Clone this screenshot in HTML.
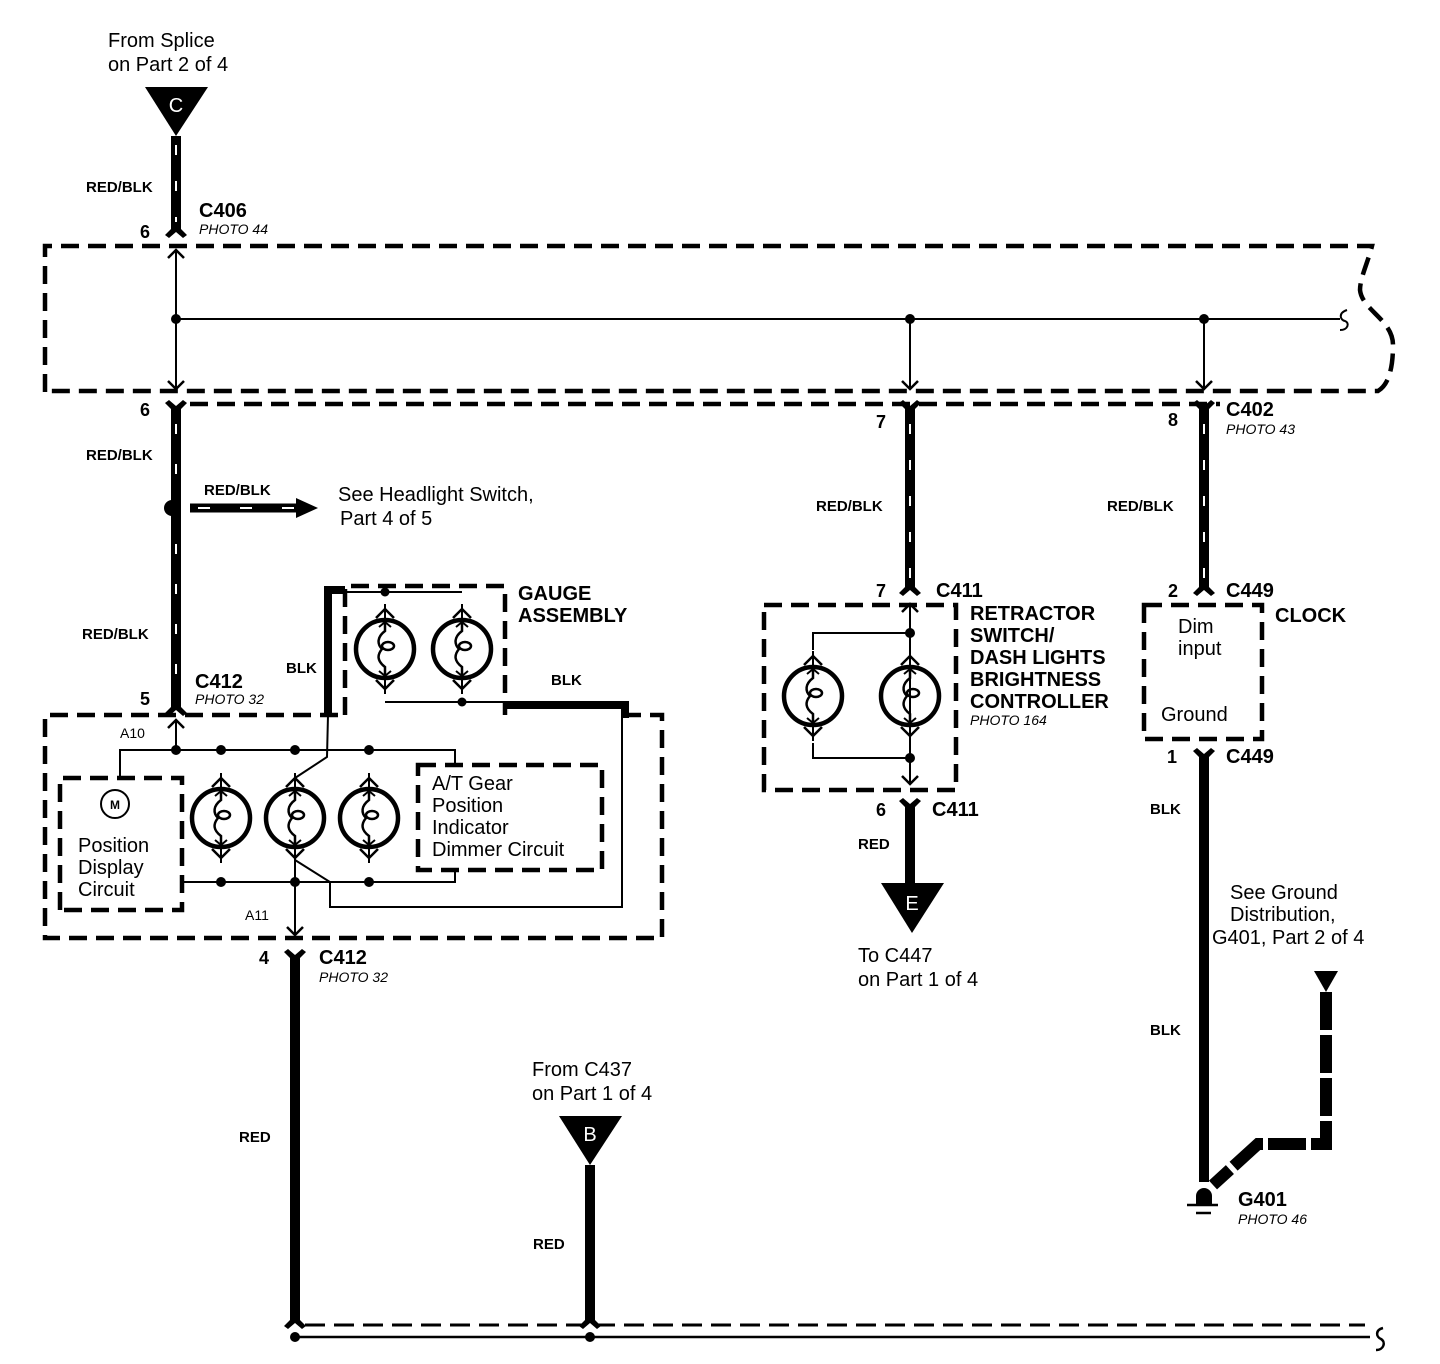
<!DOCTYPE html>
<html><head><meta charset="utf-8"><style>
html,body{margin:0;padding:0;background:#fff;}
svg{display:block;}
text{font-family:"Liberation Sans",Arial,sans-serif;fill:#000;}
.b{font-weight:bold;}
.lab{font-size:15px;font-weight:bold;}
.big{font-size:20px;font-weight:bold;}
.ph{font-size:14px;font-style:italic;}
.t{font-size:20px;}
.pin{font-size:18px;font-weight:bold;}
</style></head><body>
<svg width="1440" height="1364" viewBox="0 0 1440 1364" xmlns="http://www.w3.org/2000/svg">
<defs>
<g id="bulb">
  <circle cx="0" cy="0" r="29" fill="none" stroke="#000" stroke-width="4.5"/>
  <line x1="0" y1="-45" x2="0" y2="-29" stroke="#000" stroke-width="2"/>
  <path d="M-9,-31 L0,-40 L9,-31" fill="none" stroke="#000" stroke-width="2.5"/>
  <line x1="0" y1="29" x2="0" y2="45" stroke="#000" stroke-width="2"/>
  <path d="M-9,31 L0,40 L9,31" fill="none" stroke="#000" stroke-width="2.5"/>
  <path d="M0,-27 L0,-18 C-8,-12 -8,-5 -3,0 C-8,6 -8,12 0,18 L0,27" fill="none" stroke="#000" stroke-width="2.5"/>
  <ellipse cx="3" cy="-3" rx="6" ry="4" fill="none" stroke="#000" stroke-width="2.5"/>
  <path d="M-6,-22 L0,-27 L6,-22 M-6,22 L0,27 L6,22" fill="none" stroke="#000" stroke-width="2"/>
</g>
<g id="fem"><path d="M-5,-12 L5,-12 L5,-5 L11,1 L7,4 L0,-2 L-7,4 L-11,1 L-5,-5 Z" fill="#000"/></g>
<g id="femup"><path d="M-5,12 L5,12 L5,5 L11,-1 L7,-4 L0,2 L-7,-4 L-11,-1 L-5,5 Z" fill="#000"/></g>
</defs>

<text class="t" x="108" y="47">From Splice</text>
<text class="t" x="108" y="71">on  Part 2 of 4</text>
<polygon points="145,87 208,87 176,136" fill="#000"/>
<text x="176" y="112" font-size="20" text-anchor="middle" style="fill:#fff">C</text>
<line x1="176" y1="136" x2="176" y2="226" stroke="#000" stroke-width="10"/>
<line x1="176" y1="145" x2="176" y2="226" stroke="#fff" stroke-width="2" stroke-dasharray="10 26"/>
<use href="#fem" x="176" y="234"/>
<text class="lab" x="86" y="192">RED/BLK</text>
<text class="pin" x="140" y="238">6</text>
<text class="big" x="199" y="217">C406</text>
<text class="ph" x="199" y="234">PHOTO 44</text>

<g fill="none" stroke="#000" stroke-width="4.5" stroke-dasharray="18 9">
<path d="M45,392 L45,246 L1372,246 C1368,262 1360,278 1360,290 C1362,310 1393,320 1393,345 C1393,370 1388,385 1378,391 L45,391"/>
<path d="M190,404 L1220,404"/>
</g>
<line x1="176" y1="250" x2="176" y2="389" stroke="#000" stroke-width="2"/>
<path d="M168,258 L176,250 L184,258 M168,381 L176,389 L184,381" fill="none" stroke="#000" stroke-width="2.5"/>
<line x1="176" y1="319" x2="1340" y2="319" stroke="#000" stroke-width="2"/>
<path d="M1347,310 C1338,313 1340,320 1345,321 C1350,323 1348,330 1340,330" fill="none" stroke="#000" stroke-width="2"/>
<circle cx="176" cy="319" r="5"/><circle cx="910" cy="319" r="5"/><circle cx="1204" cy="319" r="5"/>
<line x1="910" y1="319" x2="910" y2="389" stroke="#000" stroke-width="2"/>
<line x1="1204" y1="319" x2="1204" y2="389" stroke="#000" stroke-width="2"/>
<path d="M902,381 L910,389 L918,381 M1196,381 L1204,389 L1212,381" fill="none" stroke="#000" stroke-width="2.5"/>

<use href="#femup" x="176" y="404"/>
<line x1="176" y1="414" x2="176" y2="705" stroke="#000" stroke-width="10"/>
<line x1="176" y1="424" x2="176" y2="700" stroke="#fff" stroke-width="2" stroke-dasharray="10 30"/>
<use href="#fem" x="176" y="712"/>
<text class="pin" x="140" y="416">6</text>
<text class="lab" x="86" y="460">RED/BLK</text>
<text class="lab" x="82" y="639">RED/BLK</text>
<circle cx="172" cy="508" r="8"/>
<line x1="190" y1="508" x2="300" y2="508" stroke="#000" stroke-width="9"/>
<line x1="198" y1="508" x2="295" y2="508" stroke="#fff" stroke-width="2" stroke-dasharray="12 30"/>
<polygon points="296,498 318,508 296,518" fill="#000"/>
<text class="lab" x="204" y="495">RED/BLK</text>
<text class="t" x="338" y="501" font-size="19">See Headlight Switch,</text>
<text class="t" x="340" y="525" font-size="19">Part 4 of 5</text>

<text class="big" x="195" y="688">C412</text>
<text class="ph" x="195" y="704">PHOTO 32</text>
<text class="pin" x="140" y="705">5</text>
<g fill="none" stroke="#000" stroke-width="4.5" stroke-dasharray="18 9">
<path d="M338,715 L45,715 L45,938 L662,938 L662,715 L620,715"/>
<path d="M345,715 L345,586 L505,586 L505,715"/>
<path d="M60,910 L60,778 L182,778 L182,910 Z"/>
<path d="M418,765 L602,765 L602,870 L418,870 Z"/>
<path d="M764,605 L956,605 L956,790 L764,790 Z"/>
<path d="M1144,605 L1262,605 L1262,739 L1144,739 Z"/>
</g>
<path d="M328,715 L328,590 L345,590" fill="none" stroke="#000" stroke-width="8"/>
<path d="M505,705 L625,705 L625,718" fill="none" stroke="#000" stroke-width="8"/>
<text class="lab" x="286" y="673">BLK</text>
<text class="lab" x="551" y="685">BLK</text>
<text class="big" x="518" y="600">GAUGE</text>
<text class="big" x="518" y="622">ASSEMBLY</text>
<line x1="345" y1="592" x2="462" y2="592" stroke="#000" stroke-width="2"/>
<circle cx="385" cy="592" r="4.5"/>
<line x1="385" y1="702" x2="505" y2="702" stroke="#000" stroke-width="2"/>
<circle cx="462" cy="702" r="4.5"/>
<use href="#bulb" x="385" y="649"/>
<use href="#bulb" x="462" y="649"/>
<line x1="176" y1="720" x2="176" y2="750" stroke="#000" stroke-width="2"/>
<path d="M168,728 L176,720 L184,728" fill="none" stroke="#000" stroke-width="2.5"/>
<text x="120" y="738" style="font-size:14px">A10</text>
<path d="M120,778 L120,750 L455,750 L455,765" fill="none" stroke="#000" stroke-width="2"/>
<circle cx="176" cy="750" r="5"/><circle cx="221" cy="750" r="5"/><circle cx="295" cy="750" r="5"/><circle cx="369" cy="750" r="5"/>
<path d="M328,715 L327,757 L295,778" fill="none" stroke="#000" stroke-width="2"/>
<use href="#bulb" x="221" y="818"/>
<use href="#bulb" x="295" y="818"/>
<use href="#bulb" x="369" y="818"/>
<path d="M182,882 L455,882 L455,870" fill="none" stroke="#000" stroke-width="2"/>
<circle cx="221" cy="882" r="5"/><circle cx="295" cy="882" r="5"/><circle cx="369" cy="882" r="5"/>
<path d="M295,860 L330,882 L330,907 L622,907 L622,715" fill="none" stroke="#000" stroke-width="2"/>
<line x1="295" y1="860" x2="295" y2="935" stroke="#000" stroke-width="2"/>
<path d="M287,927 L295,935 L303,927" fill="none" stroke="#000" stroke-width="2.5"/>
<text x="245" y="920" style="font-size:14px">A11</text>
<circle cx="115" cy="804" r="14" fill="none" stroke="#000" stroke-width="2"/>
<text x="115" y="809" text-anchor="middle" style="font-size:12px;font-weight:bold">M</text>
<text class="t" x="78" y="852">Position</text>
<text class="t" x="78" y="874">Display</text>
<text class="t" x="78" y="896">Circuit</text>
<text class="t" x="432" y="790">A/T Gear</text>
<text class="t" x="432" y="812">Position</text>
<text class="t" x="432" y="834">Indicator</text>
<text class="t" x="432" y="856">Dimmer Circuit</text>

<use href="#femup" x="295" y="953"/>
<line x1="295" y1="963" x2="295" y2="1318" stroke="#000" stroke-width="10"/>
<use href="#fem" x="295" y="1325"/>
<text class="pin" x="259" y="964">4</text>
<text class="big" x="319" y="964">C412</text>
<text class="ph" x="319" y="982">PHOTO 32</text>
<text class="lab" x="239" y="1142">RED</text>
<text class="t" x="532" y="1076">From C437</text>
<text class="t" x="532" y="1100">on Part 1 of 4</text>
<polygon points="559,1116 622,1116 590,1165" fill="#000"/>
<text x="590" y="1141" font-size="20" text-anchor="middle" style="fill:#fff">B</text>
<line x1="590" y1="1165" x2="590" y2="1318" stroke="#000" stroke-width="10"/>
<use href="#fem" x="590" y="1325"/>
<text class="lab" x="533" y="1249">RED</text>
<line x1="305" y1="1325" x2="1365" y2="1325" stroke="#000" stroke-width="3" stroke-dasharray="20 9"/>
<line x1="295" y1="1337" x2="1370" y2="1337" stroke="#000" stroke-width="2.5"/>
<circle cx="295" cy="1337" r="5"/><circle cx="590" cy="1337" r="5"/>
<path d="M1383,1328 C1375,1330 1376,1337 1381,1339 C1386,1342 1384,1350 1376,1350" fill="none" stroke="#000" stroke-width="2.5"/>

<use href="#femup" x="910" y="404"/>
<line x1="910" y1="414" x2="910" y2="585" stroke="#000" stroke-width="10"/>
<line x1="910" y1="424" x2="910" y2="580" stroke="#fff" stroke-width="2" stroke-dasharray="10 26"/>
<use href="#fem" x="910" y="592"/>
<text class="pin" x="876" y="428">7</text>
<text class="lab" x="816" y="511">RED/BLK</text>
<text class="pin" x="876" y="597">7</text>
<text class="big" x="936" y="597">C411</text>
<line x1="910" y1="605" x2="910" y2="783" stroke="#000" stroke-width="2"/>
<path d="M902,612 L910,604 L918,612 M902,776 L910,784 L918,776" fill="none" stroke="#000" stroke-width="2.5"/>
<path d="M910,633 L813,633 L813,650" fill="none" stroke="#000" stroke-width="2"/>
<path d="M813,743 L813,758 L910,758" fill="none" stroke="#000" stroke-width="2"/>
<circle cx="910" cy="633" r="5"/><circle cx="910" cy="758" r="5"/>
<use href="#bulb" x="813" y="696"/>
<use href="#bulb" x="910" y="696"/>
<text class="big" x="970" y="620">RETRACTOR</text>
<text class="big" x="970" y="642">SWITCH/</text>
<text class="big" x="970" y="664">DASH LIGHTS</text>
<text class="big" x="970" y="686">BRIGHTNESS</text>
<text class="big" x="970" y="708">CONTROLLER</text>
<text class="ph" x="970" y="725">PHOTO 164</text>
<use href="#femup" x="910" y="802"/>
<line x1="910" y1="812" x2="910" y2="890" stroke="#000" stroke-width="10"/>
<text class="pin" x="876" y="816">6</text>
<text class="big" x="932" y="816">C411</text>
<text class="lab" x="858" y="849">RED</text>
<polygon points="881,883 944,883 912,933" fill="#000"/>
<text x="912" y="910" font-size="20" text-anchor="middle" style="fill:#fff">E</text>
<text class="t" x="858" y="962">To C447</text>
<text class="t" x="858" y="986">on Part 1 of 4</text>

<use href="#femup" x="1204" y="404"/>
<line x1="1204" y1="414" x2="1204" y2="585" stroke="#000" stroke-width="10"/>
<line x1="1204" y1="424" x2="1204" y2="580" stroke="#fff" stroke-width="2" stroke-dasharray="10 26"/>
<use href="#fem" x="1204" y="592"/>
<text class="pin" x="1168" y="426">8</text>
<text class="big" x="1226" y="416">C402</text>
<text class="ph" x="1226" y="434">PHOTO 43</text>
<text class="lab" x="1107" y="511">RED/BLK</text>
<text class="pin" x="1168" y="597">2</text>
<text class="big" x="1226" y="597">C449</text>
<text class="big" x="1275" y="622">CLOCK</text>
<text class="t" x="1178" y="633">Dim</text>
<text class="t" x="1178" y="655">input</text>
<text class="t" x="1161" y="721">Ground</text>
<use href="#femup" x="1204" y="752"/>
<line x1="1204" y1="762" x2="1204" y2="1182" stroke="#000" stroke-width="10"/>
<text class="pin" x="1167" y="763">1</text>
<text class="big" x="1226" y="763">C449</text>
<text class="lab" x="1150" y="814">BLK</text>
<text class="lab" x="1150" y="1035">BLK</text>
<text class="t" x="1230" y="899">See  Ground</text>
<text class="t" x="1230" y="921">Distribution,</text>
<text class="t" x="1212" y="944">G401, Part 2 of 4</text>
<polygon points="1314,971 1338,971 1326,992" fill="#000"/>
<path d="M1326,992 L1326,1144 L1258,1144 L1213,1185" fill="none" stroke="#000" stroke-width="12" stroke-dasharray="38 5"/>
<circle cx="1204" cy="1196" r="8" fill="#000"/>
<rect x="1196" y="1196" width="16" height="8" fill="#000"/>
<line x1="1187" y1="1205" x2="1218" y2="1205" stroke="#000" stroke-width="2.5"/>
<line x1="1196" y1="1213" x2="1211" y2="1213" stroke="#000" stroke-width="2.5"/>
<text class="big" x="1238" y="1206">G401</text>
<text class="ph" x="1238" y="1224">PHOTO 46</text>
</svg>
</body></html>
